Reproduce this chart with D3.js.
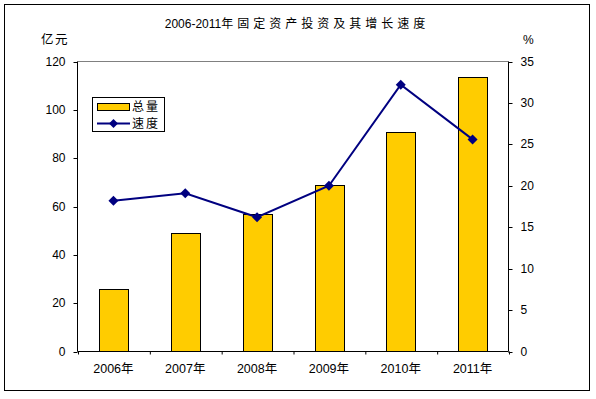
<!DOCTYPE html>
<html>
<head>
<meta charset="utf-8">
<script src="https://cdn.jsdelivr.net/npm/d3@7"></script>
<style>
  body { margin: 0; background: #fff; }
  svg text { font-family: "Liberation Sans", Arial, "Noto Sans CJK SC", sans-serif; fill: #000; }
</style>
</head>
<body>
<svg id="chart" width="596" height="399"></svg>
<script>
const years = ['2006年', '2007年', '2008年', '2009年', '2010年', '2011年'];
const totals = [26.0, 48.9, 57.1, 68.7, 90.7, 113.4];   // 亿元
const growth = [18.2, 19.1, 16.2, 20.0, 32.2, 25.6];    // %
const leftTicks = [0, 20, 40, 60, 80, 100, 120];
const rightTicks = [0, 5, 10, 15, 20, 25, 30, 35];

const svg = d3.select('#chart');
const plot = { left: 77.5, right: 508.5, top: 61.5, bottom: 351.5 };

// outer frame
svg.append('rect')
  .attr('x', 4.5).attr('y', 4.5)
  .attr('width', 585).attr('height', 386)
  .attr('fill', '#fff').attr('stroke', '#000');

const title = svg.append('text')
  .attr('x', 297).attr('y', 28)
  .attr('text-anchor', 'middle')
  .attr('font-size', 12);
title.append('tspan').text('2006-2011');
title.append('tspan').attr('letter-spacing', 4).text('年固定资产投资及其增长速度');

svg.append('text').attr('x', 41).attr('y', 44).attr('font-size', 12.5)
  .attr('letter-spacing', 1.5).text('亿元');
svg.append('text').attr('x', 523).attr('y', 44).attr('font-size', 12).text('%');

const x = d3.scaleBand()
  .domain(years)
  .range([plot.left, plot.right])
  .paddingInner(0.6)
  .paddingOuter(0.3);

const xEdge = d3.scaleLinear().domain([0, years.length]).range([plot.left, plot.right]);

const yL = d3.scaleLinear().domain([0, 120]).range([plot.bottom, plot.top]);
const yR = d3.scaleLinear().domain([0, 35]).range([plot.bottom, plot.top]);

// plot area top border (gray)
svg.append('line')
  .attr('x1', plot.left).attr('x2', plot.right)
  .attr('y1', plot.top).attr('y2', plot.top)
  .attr('stroke', '#808080');

// bars
svg.append('g')
  .selectAll('rect')
  .data(totals)
  .enter()
  .append('rect')
  .attr('x', (d, i) => Math.round(x(years[i])) + 0.5)
  .attr('width', Math.round(x.bandwidth()))
  .attr('y', d => Math.round(yL(d)) + 0.5)
  .attr('height', d => plot.bottom - Math.round(yL(d)) - 0.5)
  .attr('fill', '#FFCC00')
  .attr('stroke', '#000')
  .attr('stroke-width', 1);

// left axis
const gL = svg.append('g')
  .attr('transform', `translate(${plot.left},0)`)
  .call(d3.axisLeft(yL).tickValues(leftTicks).tickSize(4).tickPadding(8));
gL.select('.domain').remove();

// right axis
const gR = svg.append('g')
  .attr('transform', `translate(${plot.right},0)`)
  .call(d3.axisRight(yR).tickValues(rightTicks).tickSize(4).tickPadding(8));
gR.select('.domain').remove();

// bottom axis: ticks on category edges, labels at category centres
const gB = svg.append('g')
  .attr('transform', `translate(0,${plot.bottom})`)
  .call(d3.axisBottom(xEdge).ticks(years.length).tickSize(3).tickFormat(''));
gB.select('.domain').remove();
gB.selectAll('.tick line').attr('transform', 'translate(0.5,0)');

svg.append('g')
  .selectAll('text')
  .data(years)
  .enter()
  .append('text')
  .attr('x', d => x(d) + x.bandwidth() / 2)
  .attr('y', 373)
  .attr('text-anchor', 'middle')
  .attr('font-size', 12.5)
  .text(d => d);

[gL, gR].forEach(g => {
  g.selectAll('text').attr('font-size', 12).attr('font-family', null).attr('fill', '#000');
  g.selectAll('line').attr('stroke', '#000');
});
gL.selectAll('.tick').attr('transform', d => `translate(0,${Math.round(yL(d)) + 0.5})`);
gR.selectAll('.tick').attr('transform', d => `translate(0,${Math.round(yR(d)) + 0.5})`);

// axis lines
svg.append('path')
  .attr('d', `M${plot.left},${plot.top}V${plot.bottom}H${plot.right}V${plot.top}`)
  .attr('fill', 'none')
  .attr('stroke', '#000');

// growth line
const line = d3.line()
  .x((d, i) => x(years[i]) + x.bandwidth() / 2)
  .y(d => yR(d));

svg.append('path')
  .datum(growth)
  .attr('fill', 'none')
  .attr('stroke', '#000080')
  .attr('stroke-width', 2)
  .attr('d', line);

svg.append('g')
  .selectAll('path')
  .data(growth)
  .enter()
  .append('path')
  .attr('transform', (d, i) => `translate(${x(years[i]) + x.bandwidth() / 2},${yR(d)}) rotate(45)`)
  .attr('d', d3.symbol().type(d3.symbolSquare).size(50))
  .attr('fill', '#000080');

// legend
const lg = svg.append('g');
lg.append('rect')
  .attr('x', 92.5).attr('y', 97.5).attr('width', 72).attr('height', 34)
  .attr('fill', '#fff').attr('stroke', '#000');
lg.append('rect')
  .attr('x', 97.5).attr('y', 103.5).attr('width', 32).attr('height', 7)
  .attr('fill', '#FFCC00').attr('stroke', '#000');
lg.append('text').attr('x', 132).attr('y', 111).attr('font-size', 12)
  .attr('letter-spacing', 2).text('总量');
lg.append('line')
  .attr('x1', 97).attr('x2', 130).attr('y1', 123.5).attr('y2', 123.5)
  .attr('stroke', '#000080').attr('stroke-width', 2);
lg.append('path')
  .attr('transform', 'translate(113.5,123.5) rotate(45)')
  .attr('d', d3.symbol().type(d3.symbolSquare).size(40))
  .attr('fill', '#000080');
lg.append('text').attr('x', 132).attr('y', 128).attr('font-size', 12)
  .attr('letter-spacing', 2).text('速度');
</script>
</body>
</html>
